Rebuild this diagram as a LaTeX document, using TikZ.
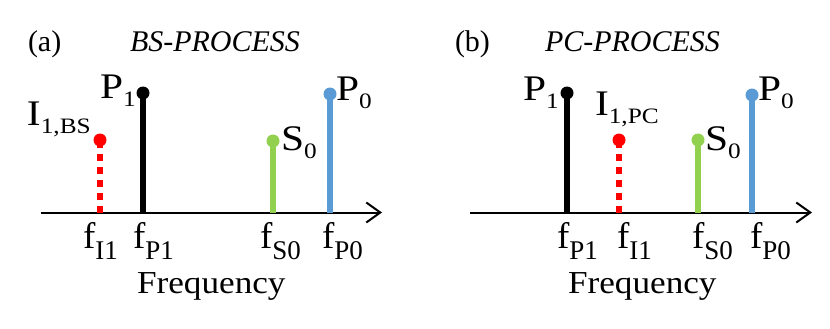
\documentclass[tikz,border=0pt]{standalone}
\usepackage{fontspec}
\setmainfont{Liberation Serif}
\usetikzlibrary{arrows.meta}
\definecolor{stemred}{RGB}{255,0,0}
\definecolor{stemgreen}{RGB}{146,208,80}
\definecolor{stemblue}{RGB}{91,155,213}
\newcommand\lsub[1]{\raisebox{-8pt}{\fontsize{22}{22}\selectfont #1}}
\newcommand\fsub[1]{\raisebox{-11pt}{\fontsize{27}{27}\selectfont #1}}
\begin{document}
\begin{tikzpicture}[x=1pt,y=-1pt,
  txt/.style={inner sep=0pt, outer sep=0pt, anchor=base west},
  title/.style={txt, font=\fontsize{30}{30}\selectfont},
  peak/.style={txt, font=\fontsize{36}{36}\selectfont, xscale=1.15},
  tick/.style={txt, font=\fontsize{37}{37}\selectfont},
  axislabel/.style={txt, font=\fontsize{32}{32}\selectfont, xscale=1.1},
  axisline/.style={line width=2pt, -{Straight Barb[length=14pt,width=20pt,line width=2pt]}},
  stemline/.style={line width=6.5pt},
  dashstem/.style={stemline, dash pattern=on 7pt off 6pt},
  dotr/.style={radius=6.5pt}]
\useasboundingbox (0,0) rectangle (830,329);

% ---------------- panel (a) ----------------
\node[title] (la) at (28,52) {(a)};
\node[title] (ta) at (130,52) {\itshape BS-PROCESS};

\coordinate (axa0) at (41,212.5);
\coordinate (axa1) at (382,212.5);
\draw[axisline] (axa0) -- (axa1);

\coordinate (aIb) at (100,212.5);  \coordinate (aIt) at (100,140);
\coordinate (aP1b) at (143,212.5); \coordinate (aP1t) at (143,93);
\coordinate (aS0b) at (273,212.5); \coordinate (aS0t) at (273,141);
\coordinate (aP0b) at (330,212.5); \coordinate (aP0t) at (330,94);

\draw[dashstem, stemred] (aIb) -- (aIt);
\fill[stemred] (aIt) circle[dotr];
\draw[stemline, black] (aP1b) -- (aP1t);
\fill[black] (aP1t) circle[dotr];
\draw[stemline, stemgreen] (aS0b) -- (aS0t);
\fill[stemgreen] (aS0t) circle[dotr];
\draw[stemline, stemblue] (aP0b) -- (aP0t);
\fill[stemblue] (aP0t) circle[dotr];

\node[peak] (aIl) at (27,125) {I\lsub{1,BS}};
\node[peak] (aP1l) at (100,99) {P\lsub{1}};
\node[peak] (aS0l) at (281,150) {S\lsub{0}};
\node[peak] (aP0l) at (336,100) {P\lsub{0}};

\node[tick] (afI) at (83,248) {f\fsub{I1}};
\node[tick] (afP1) at (133,248) {f\fsub{P1}};
\node[tick] (afS0) at (260,248) {f\fsub{S0}};
\node[tick] (afP0) at (322,248) {f\fsub{P0}};

\node[axislabel] (afreq) at (137,293) {Frequency};

% ---------------- panel (b) ----------------
\node[title] (lb) at (455,52) {(b)};
\node[title] (tb) at (545,52) {\itshape PC-PROCESS};

\coordinate (axb0) at (470,212.5);
\coordinate (axb1) at (812,212.5);
\draw[axisline] (axb0) -- (axb1);

\coordinate (bP1b) at (567,212.5); \coordinate (bP1t) at (567,93);
\coordinate (bIb) at (619,212.5);  \coordinate (bIt) at (619,140);
\coordinate (bS0b) at (698,212.5); \coordinate (bS0t) at (698,140);
\coordinate (bP0b) at (752,212.5); \coordinate (bP0t) at (752,95);

\draw[stemline, black] (bP1b) -- (bP1t);
\fill[black] (bP1t) circle[dotr];
\draw[dashstem, stemred] (bIb) -- (bIt);
\fill[stemred] (bIt) circle[dotr];
\draw[stemline, stemgreen] (bS0b) -- (bS0t);
\fill[stemgreen] (bS0t) circle[dotr];
\draw[stemline, stemblue] (bP0b) -- (bP0t);
\fill[stemblue] (bP0t) circle[dotr];

\node[peak] (bP1l) at (523,100) {P\lsub{1}};
\node[peak] (bIl) at (595,115) {I\lsub{1,PC}};
\node[peak] (bS0l) at (705,150) {S\lsub{0}};
\node[peak] (bP0l) at (758,100) {P\lsub{0}};

\node[tick] (bfP1) at (557,248) {f\fsub{P1}};
\node[tick] (bfI) at (617,248) {f\fsub{I1}};
\node[tick] (bfS0) at (692,248) {f\fsub{S0}};
\node[tick] (bfP0) at (750,248) {f\fsub{P0}};

\node[axislabel] (bfreq) at (568,293) {Frequency};
\end{tikzpicture}
\end{document}
